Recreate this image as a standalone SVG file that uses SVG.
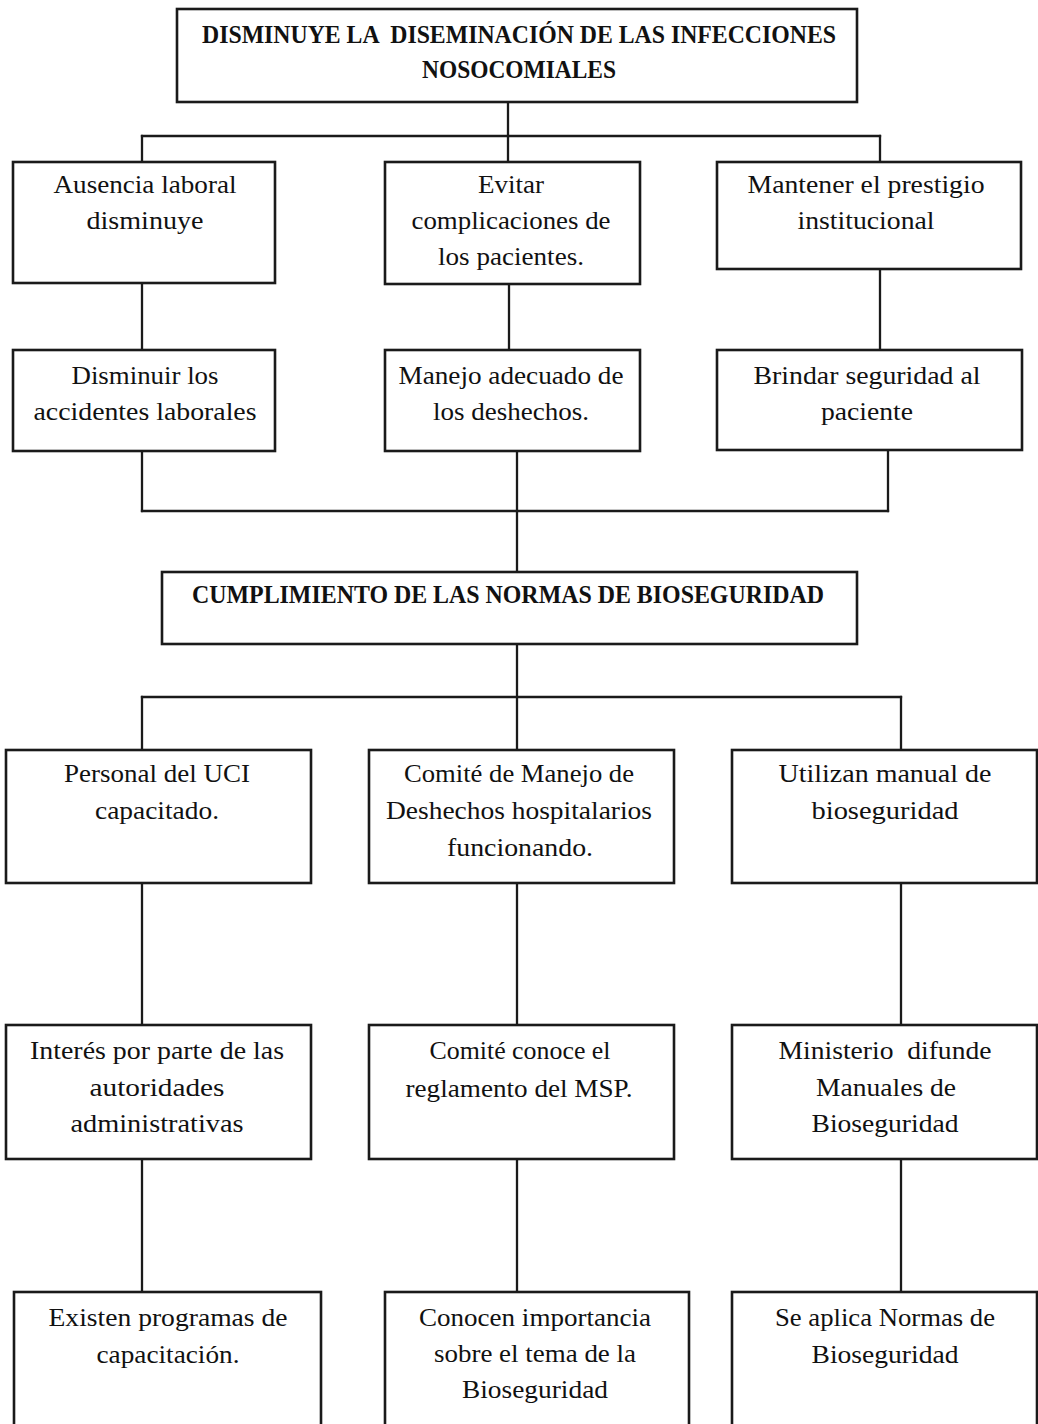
<svg xmlns="http://www.w3.org/2000/svg" width="1038" height="1424" viewBox="0 0 1038 1424">
<style>
  .box { fill: #ffffff; stroke: #1a1a1a; stroke-width: 2.6; }
  .conn { stroke: #1a1a1a; stroke-width: 2.3; fill: none; stroke-linecap: square; }
  text { font-family: "Liberation Serif", "DejaVu Serif", serif; font-size: 26px; fill: #111; text-anchor: middle; white-space: pre; }
  .hd { font-weight: bold; font-size: 26px; }
</style>
<rect x="0" y="0" width="1038" height="1424" fill="#ffffff"/>

<g id="connectors">
  <line class="conn" x1="508" y1="102" x2="508" y2="136"/>
  <line class="conn" x1="142" y1="136" x2="880" y2="136"/>
  <line class="conn" x1="142" y1="136" x2="142" y2="162"/>
  <line class="conn" x1="508" y1="136" x2="508" y2="162"/>
  <line class="conn" x1="880" y1="136" x2="880" y2="162"/>
  <line class="conn" x1="142" y1="283" x2="142" y2="350"/>
  <line class="conn" x1="509" y1="284" x2="509" y2="350"/>
  <line class="conn" x1="880" y1="269" x2="880" y2="350"/>
  <line class="conn" x1="142" y1="451" x2="142" y2="511"/>
  <line class="conn" x1="888" y1="450" x2="888" y2="511"/>
  <line class="conn" x1="142" y1="511" x2="888" y2="511"/>
  <line class="conn" x1="517" y1="451" x2="517" y2="572"/>
  <line class="conn" x1="517" y1="644" x2="517" y2="750"/>
  <line class="conn" x1="142" y1="697" x2="901" y2="697"/>
  <line class="conn" x1="142" y1="697" x2="142" y2="750"/>
  <line class="conn" x1="901" y1="697" x2="901" y2="750"/>
  <line class="conn" x1="142" y1="883" x2="142" y2="1025"/>
  <line class="conn" x1="517" y1="883" x2="517" y2="1025"/>
  <line class="conn" x1="901" y1="883" x2="901" y2="1025"/>
  <line class="conn" x1="142" y1="1159" x2="142" y2="1292"/>
  <line class="conn" x1="517" y1="1159" x2="517" y2="1292"/>
  <line class="conn" x1="901" y1="1159" x2="901" y2="1292"/>
</g>

<g id="top">
  <rect class="box" x="177" y="9" width="680" height="93"/>
  <text class="hd" x="519" y="43" textLength="634" lengthAdjust="spacingAndGlyphs">DISMINUYE LA  DISEMINACIÓN DE LAS INFECCIONES</text>
  <text class="hd" x="519" y="78" textLength="194" lengthAdjust="spacingAndGlyphs">NOSOCOMIALES</text>
</g>

<g id="ausencia">
  <rect class="box" x="13" y="162" width="262" height="121"/>
  <text x="145" y="193" textLength="183" lengthAdjust="spacingAndGlyphs">Ausencia laboral</text>
  <text x="145" y="229" textLength="117" lengthAdjust="spacingAndGlyphs">disminuye</text>
</g>

<g id="evitar">
  <rect class="box" x="385" y="162" width="255" height="122"/>
  <text x="511" y="193" textLength="66" lengthAdjust="spacingAndGlyphs">Evitar</text>
  <text x="511" y="229" textLength="199" lengthAdjust="spacingAndGlyphs">complicaciones de</text>
  <text x="511" y="265" textLength="146" lengthAdjust="spacingAndGlyphs">los pacientes.</text>
</g>

<g id="mantener">
  <rect class="box" x="717" y="162" width="304" height="107"/>
  <text x="866" y="193" textLength="237" lengthAdjust="spacingAndGlyphs">Mantener el prestigio</text>
  <text x="866" y="229" textLength="137" lengthAdjust="spacingAndGlyphs">institucional</text>
</g>

<g id="disminuir">
  <rect class="box" x="13" y="350" width="262" height="101"/>
  <text x="145" y="384" textLength="147" lengthAdjust="spacingAndGlyphs">Disminuir los</text>
  <text x="145" y="420" textLength="223" lengthAdjust="spacingAndGlyphs">accidentes laborales</text>
</g>

<g id="manejo">
  <rect class="box" x="385" y="350" width="255" height="101"/>
  <text x="511" y="384" textLength="225" lengthAdjust="spacingAndGlyphs">Manejo adecuado de</text>
  <text x="511" y="420" textLength="156" lengthAdjust="spacingAndGlyphs">los deshechos.</text>
</g>

<g id="brindar">
  <rect class="box" x="717" y="350" width="305" height="100"/>
  <text x="867" y="384" textLength="227" lengthAdjust="spacingAndGlyphs">Brindar seguridad al</text>
  <text x="867" y="420" textLength="92" lengthAdjust="spacingAndGlyphs">paciente</text>
</g>

<g id="cumplimiento">
  <rect class="box" x="162" y="572" width="695" height="72"/>
  <text class="hd" x="508" y="603" textLength="632" lengthAdjust="spacingAndGlyphs">CUMPLIMIENTO DE LAS NORMAS DE BIOSEGURIDAD</text>
</g>

<g id="personal">
  <rect class="box" x="6" y="750" width="305" height="133"/>
  <text x="157" y="782" textLength="186" lengthAdjust="spacingAndGlyphs">Personal del UCI</text>
  <text x="157" y="819" textLength="124" lengthAdjust="spacingAndGlyphs">capacitado.</text>
</g>

<g id="comite">
  <rect class="box" x="369" y="750" width="305" height="133"/>
  <text x="519" y="782" textLength="230" lengthAdjust="spacingAndGlyphs">Comité de Manejo de</text>
  <text x="519" y="819" textLength="266" lengthAdjust="spacingAndGlyphs">Deshechos hospitalarios</text>
  <text x="520" y="856" textLength="146" lengthAdjust="spacingAndGlyphs">funcionando.</text>
</g>

<g id="utilizan">
  <rect class="box" x="732" y="750" width="305" height="133"/>
  <text x="885" y="782" textLength="213" lengthAdjust="spacingAndGlyphs">Utilizan manual de</text>
  <text x="885" y="819" textLength="147" lengthAdjust="spacingAndGlyphs">bioseguridad</text>
</g>

<g id="interes">
  <rect class="box" x="6" y="1025" width="305" height="134"/>
  <text x="157" y="1059" textLength="254" lengthAdjust="spacingAndGlyphs">Interés por parte de las</text>
  <text x="157" y="1096" textLength="135" lengthAdjust="spacingAndGlyphs">autoridades</text>
  <text x="157" y="1132" textLength="173" lengthAdjust="spacingAndGlyphs">administrativas</text>
</g>

<g id="comite-conoce">
  <rect class="box" x="369" y="1025" width="305" height="134"/>
  <text x="520" y="1059" textLength="181" lengthAdjust="spacingAndGlyphs">Comité conoce el</text>
  <text x="519" y="1097" textLength="227" lengthAdjust="spacingAndGlyphs">reglamento del MSP.</text>
</g>

<g id="ministerio">
  <rect class="box" x="732" y="1025" width="305" height="134"/>
  <text x="885" y="1059" textLength="213" lengthAdjust="spacingAndGlyphs">Ministerio  difunde</text>
  <text x="886" y="1096" textLength="140" lengthAdjust="spacingAndGlyphs">Manuales de</text>
  <text x="885" y="1132" textLength="147" lengthAdjust="spacingAndGlyphs">Bioseguridad</text>
</g>

<g id="existen">
  <rect class="box" x="14" y="1292" width="307" height="150"/>
  <text x="168" y="1326" textLength="239" lengthAdjust="spacingAndGlyphs">Existen programas de</text>
  <text x="168" y="1363" textLength="143" lengthAdjust="spacingAndGlyphs">capacitación.</text>
</g>

<g id="conocen">
  <rect class="box" x="385" y="1292" width="304" height="150"/>
  <text x="535" y="1326" textLength="232" lengthAdjust="spacingAndGlyphs">Conocen importancia</text>
  <text x="535" y="1362" textLength="202" lengthAdjust="spacingAndGlyphs">sobre el tema de la</text>
  <text x="535" y="1398" textLength="146" lengthAdjust="spacingAndGlyphs">Bioseguridad</text>
</g>

<g id="aplica">
  <rect class="box" x="732" y="1292" width="305" height="150"/>
  <text x="885" y="1326" textLength="220" lengthAdjust="spacingAndGlyphs">Se aplica Normas de</text>
  <text x="885" y="1363" textLength="147" lengthAdjust="spacingAndGlyphs">Bioseguridad</text>
</g>
</svg>
